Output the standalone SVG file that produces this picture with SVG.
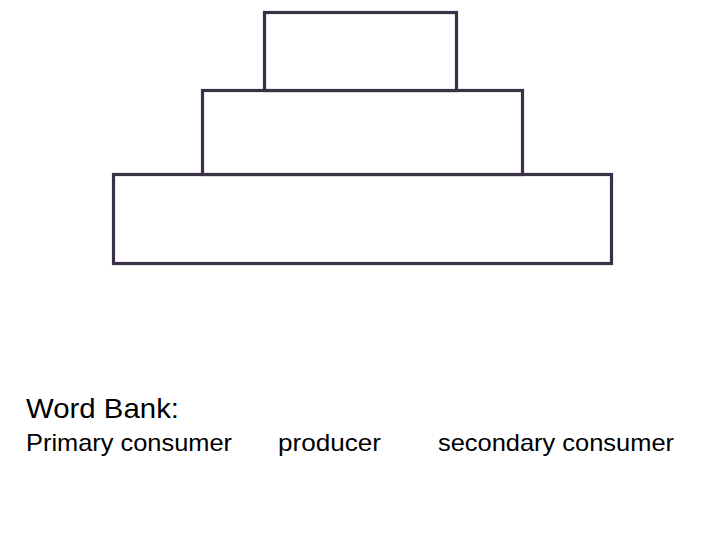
<svg xmlns="http://www.w3.org/2000/svg" width="720" height="540" viewBox="0 0 720 540">
<style>
.tier{fill:#ffffff;stroke:#3b3146;stroke-width:3.2}
.t{font-family:"Liberation Sans","Open Sans",sans-serif;fill:#000000}
</style>
<rect width="720" height="540" fill="#ffffff"/>
<g id="tier-bottom"><rect class="tier" x="113.5" y="174.5" width="498" height="89"/></g>
<g id="tier-middle"><rect class="tier" x="202.5" y="90.5" width="320" height="84"/></g>
<g id="tier-top"><rect class="tier" x="264.5" y="12.5" width="192" height="78"/></g>
<g id="connectors"></g>
<g id="word-bank">
<text class="t" x="26" y="418" font-size="27.5" textLength="153" lengthAdjust="spacingAndGlyphs">Word Bank:</text>
<text class="t" x="26" y="451" font-size="24" textLength="206" lengthAdjust="spacingAndGlyphs">Primary consumer</text>
<text class="t" x="278" y="451" font-size="24" textLength="103" lengthAdjust="spacingAndGlyphs">producer</text>
<text class="t" x="438" y="451" font-size="24" textLength="236" lengthAdjust="spacingAndGlyphs">secondary consumer</text>
</g>
</svg>
